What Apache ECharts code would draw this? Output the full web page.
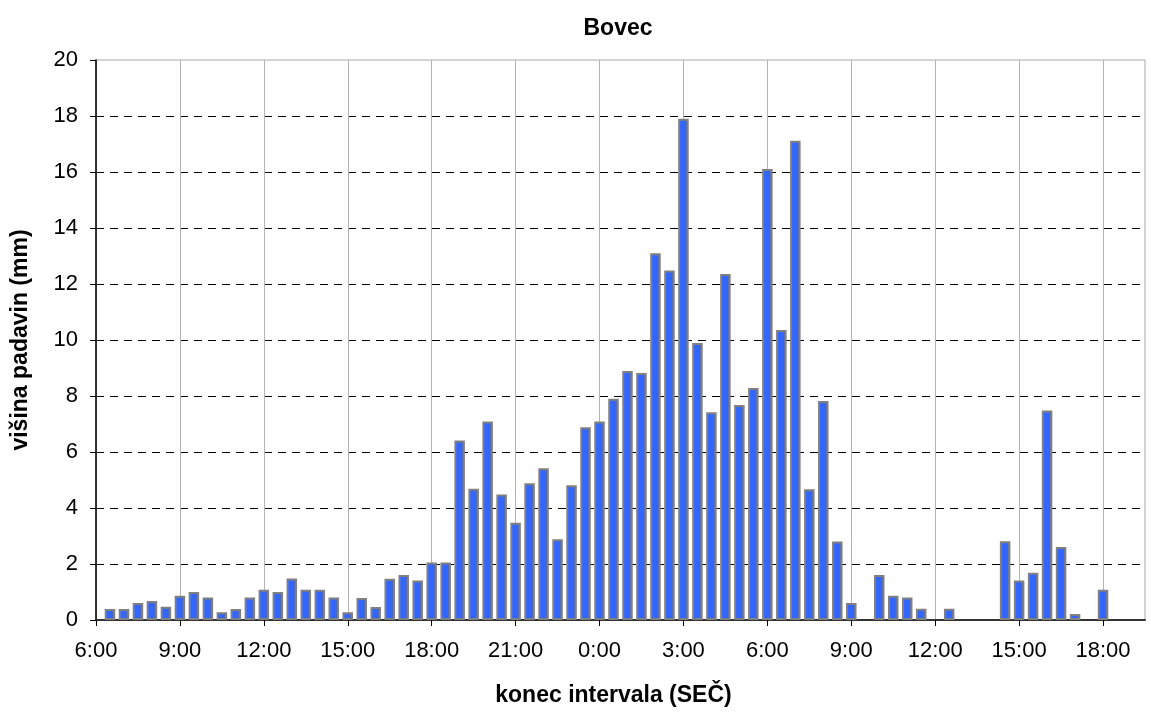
<!DOCTYPE html>
<html>
<head>
<meta charset="utf-8">
<script src="https://cdn.jsdelivr.net/npm/echarts@6/dist/echarts.min.js"></script>
<style>
  html, body { margin: 0; padding: 0; background: #fff; }
  #chatMain { width: 1151px; height: 712px; }
</style>
</head>
<body>
<div id="chatMain"></div>
<script>
// konec intervala - vsakih 30 min, od 6:00 do 19:30 naslednjega dne
const times = [
  '6:00', '6:30', '7:00', '7:30', '8:00', '8:30', '9:00', '9:30', '10:00', '10:30', '11:00', '11:30',
  '12:00', '12:30', '13:00', '13:30', '14:00', '14:30', '15:00', '15:30', '16:00', '16:30', '17:00', '17:30',
  '18:00', '18:30', '19:00', '19:30', '20:00', '20:30', '21:00', '21:30', '22:00', '22:30', '23:00', '23:30',
  '0:00', '0:30', '1:00', '1:30', '2:00', '2:30', '3:00', '3:30', '4:00', '4:30', '5:00', '5:30',
  '6:00', '6:30', '7:00', '7:30', '8:00', '8:30', '9:00', '9:30', '10:00', '10:30', '11:00', '11:30',
  '12:00', '12:30', '13:00', '13:30', '14:00', '14:30', '15:00', '15:30', '16:00', '16:30', '17:00', '17:30',
  '18:00', '18:30', '19:00', '19:30'
];
// višina padavin (mm), '-' = ni stolpca
const rain = [
  '-', 0.39, 0.39, 0.61, 0.68, 0.47, 0.87, 1.0, 0.8, 0.28, 0.39, 0.8,
  1.08, 1.0, 1.48, 1.08, 1.08, 0.8, 0.28, 0.79, 0.46, 1.47, 1.61, 1.41,
  2.05, 2.05, 6.41, 4.69, 7.09, 4.48, 3.47, 4.88, 5.42, 2.88, 4.81, 6.88,
  7.09, 7.9, 8.89, 8.82, 13.1, 12.48, 17.9, 9.89, 7.42, 12.36, 7.68, 8.29,
  16.11, 10.36, 17.12, 4.67, 7.82, 2.8, 0.61, '-', 1.61, 0.87, 0.8, 0.4,
  '-', 0.4, '-', '-', '-', 2.81, 1.41, 1.69, 7.48, 2.61, 0.21, '-',
  1.08, '-', '-', '-'
];
const yTicks = [0, 2, 4, 6, 8, 10, 12, 14, 16, 18, 20];

const fontFam = '"Liberation Sans", Arial, sans-serif';
const myechart = echarts.init(document.getElementById('chatMain'));
var option = {
  animation: false,
  backgroundColor: '#fff',
  title: {
    text: 'Bovec',
    left: 613,
    top: 12,
    textAlign: 'center',
    textStyle: { fontFamily: fontFam, fontSize: 23, fontWeight: 'bold', color: '#000' }
  },
  grid: {
    left: 96,
    right: 6,
    top: 60,
    bottom: 92,
    show: true,
    borderColor: '#a8a8a8',
    borderWidth: 1
  },
  xAxis: {
    type: 'category',
    data: times,
    boundaryGap: false,
    name: 'konec intervala (SEČ)',
    nameLocation: 'middle',
    nameGap: 64,
    nameTextStyle: { fontFamily: fontFam, fontSize: 23, fontWeight: 'bold', color: '#000', padding: [0, 14, 0, 0] },
    axisLine: { lineStyle: { color: '#333', width: 2 } },
    axisTick: { interval: 5, length: 6, lineStyle: { color: '#000', width: 1 } },
    axisLabel: { interval: 5, margin: 20, fontFamily: fontFam, fontSize: 22, color: '#000' },
    splitLine: { show: true, interval: 5, lineStyle: { color: '#b4b4b4', width: 1 } }
  },
  yAxis: {
    type: 'value',
    min: 0,
    max: 20,
    interval: 2,
    name: 'višina padavin (mm)',
    nameLocation: 'middle',
    nameGap: 64,
    nameTextStyle: { fontFamily: fontFam, fontSize: 23, fontWeight: 'bold', color: '#000' },
    axisLine: { show: true, lineStyle: { color: '#000', width: 1.5 } },
    axisTick: { show: true, length: 6, lineStyle: { color: '#000' } },
    axisLabel: { margin: 18, fontFamily: fontFam, fontSize: 22, color: '#000',
      formatter: v => yTicks.includes(v) ? String(v) : '' },
    splitLine: { show: true, showMinLine: false, showMaxLine: false,
      lineStyle: { color: '#000', width: 1, type: [8, 6] } }
  },
  series: [{
    type: 'bar',
    data: rain,
    barWidth: 10.5,
    itemStyle: { color: '#3366ff', borderColor: '#808080', borderWidth: 2 }
  }]
};
myechart.setOption(option);
</script>
</body>
</html>
